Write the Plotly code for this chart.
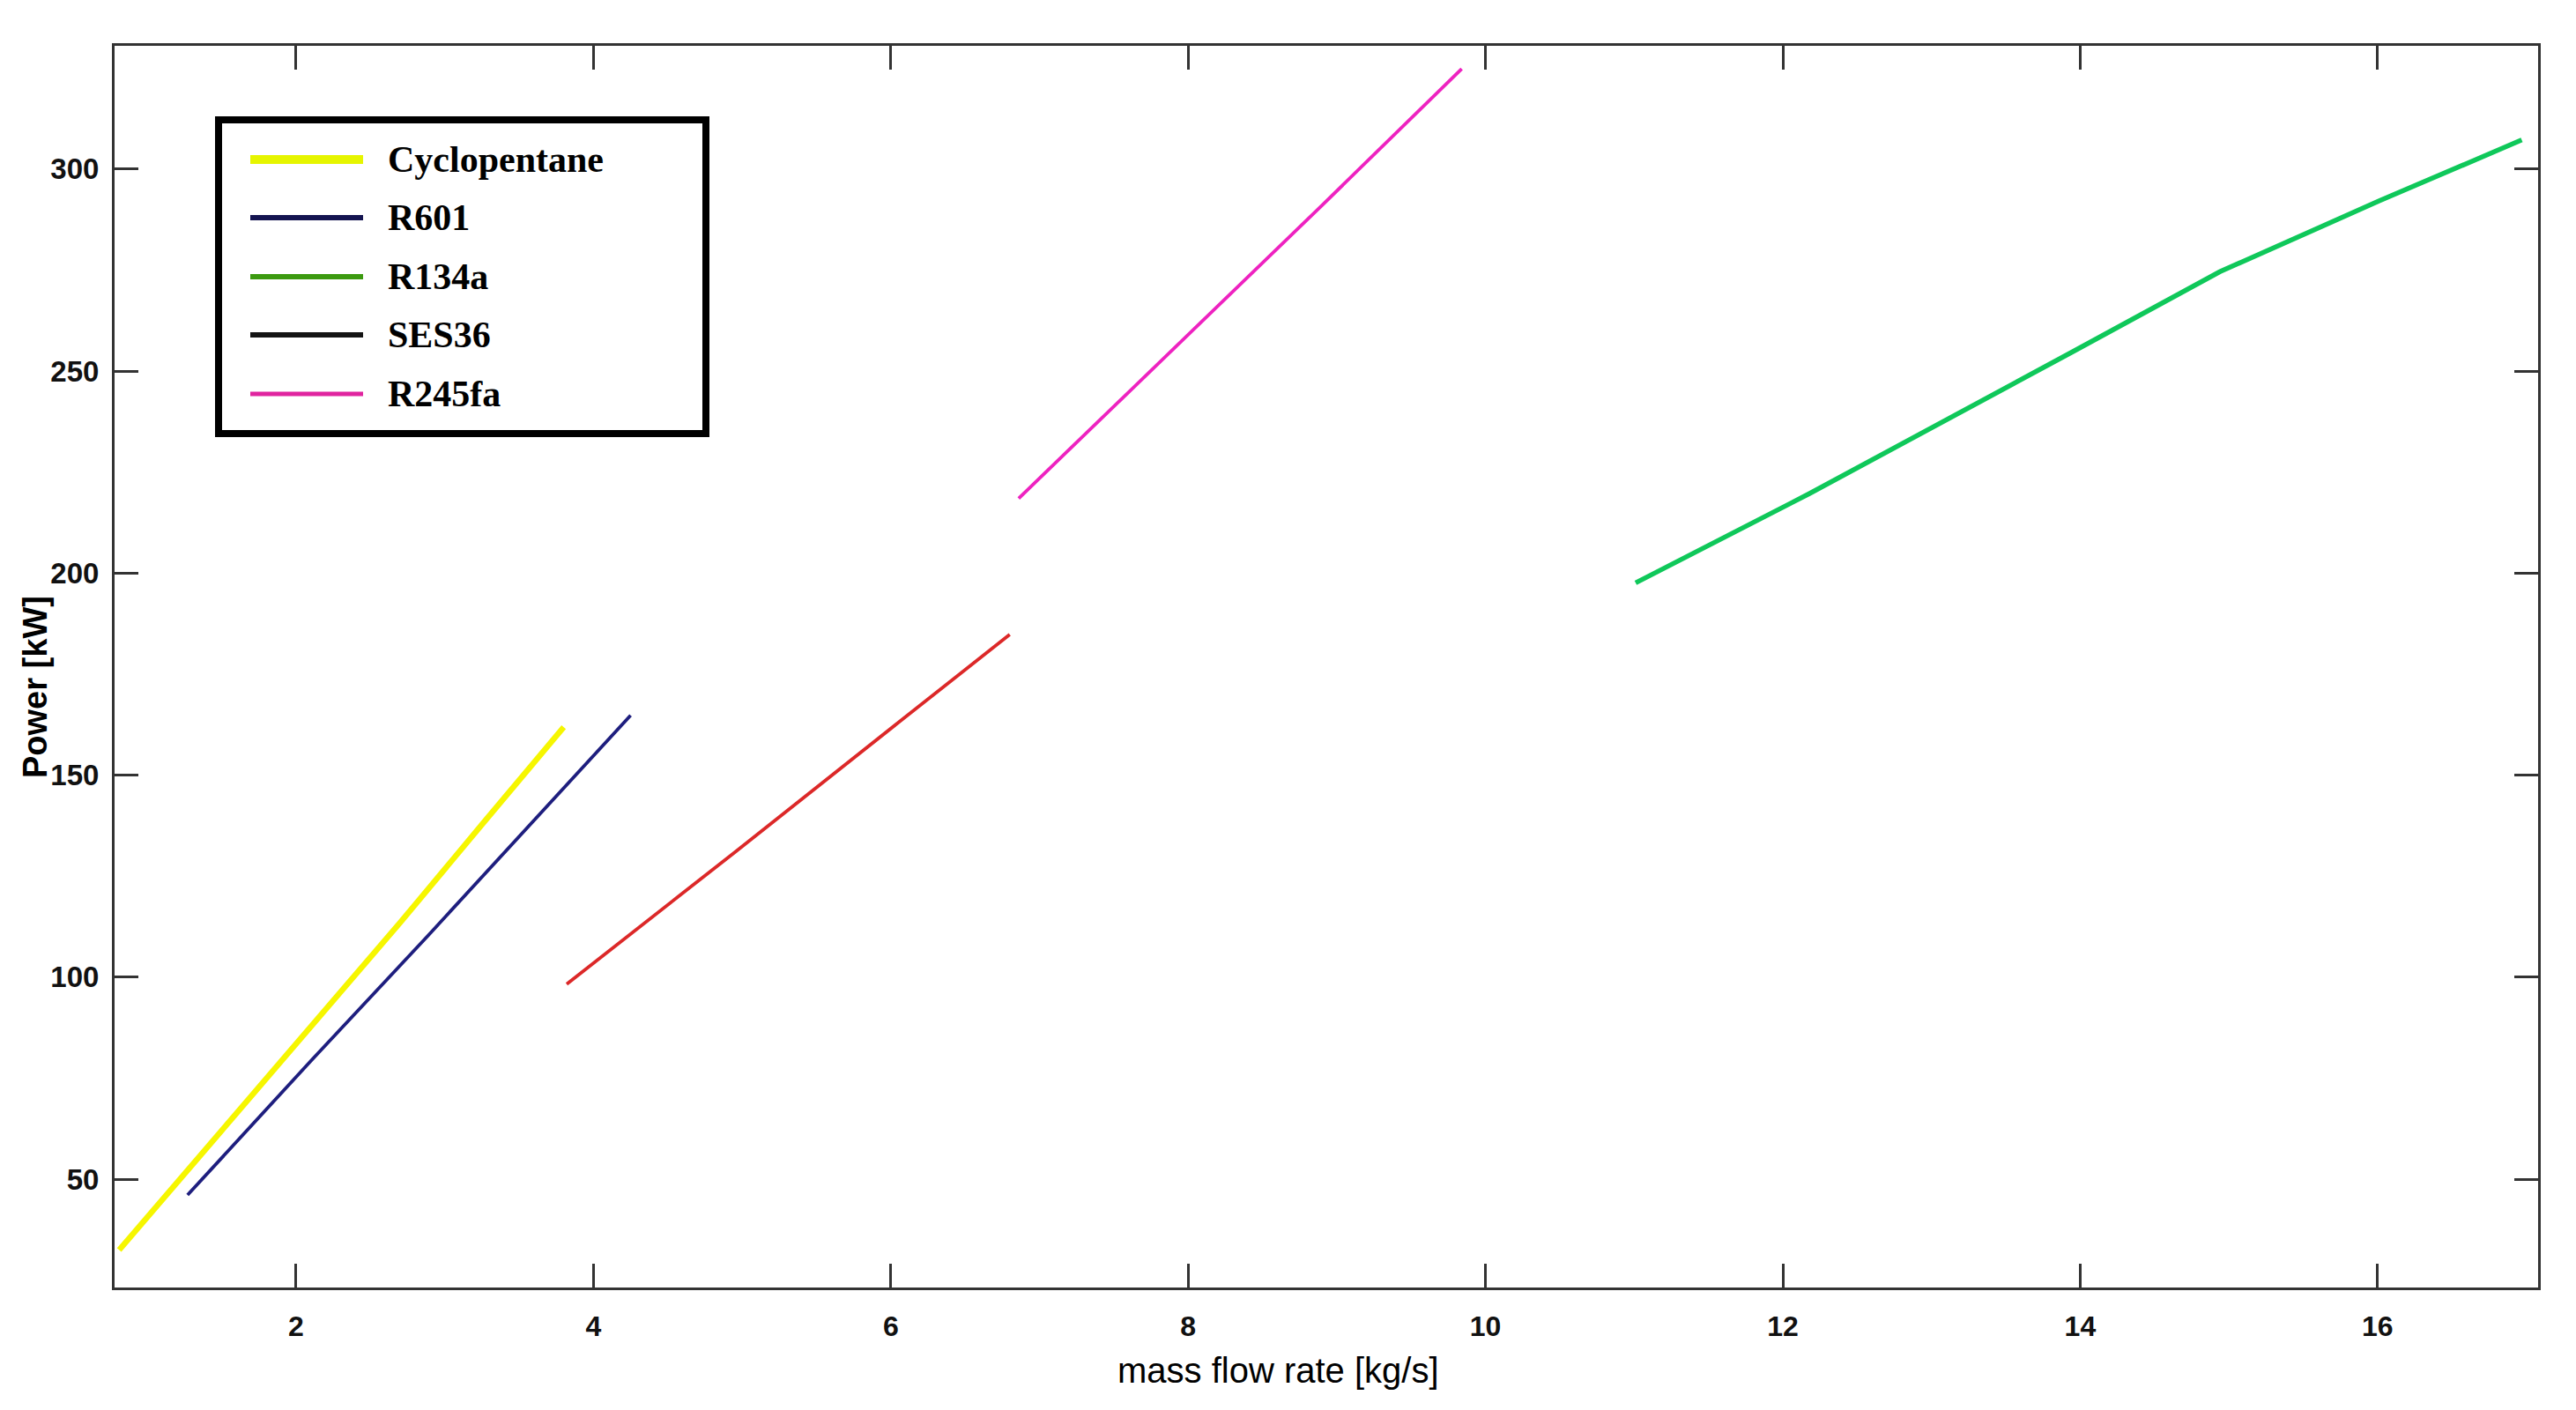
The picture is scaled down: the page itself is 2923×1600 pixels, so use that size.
import plotly.graph_objects as go

# ---- data ----
cyclopentane_x = [0.81, 1.25, 1.90, 2.70, 3.25, 3.80]
cyclopentane_y = [32.5, 51.4, 79.6, 113.5, 137.8, 161.9]
r601_x = [1.27, 2.10, 2.89, 3.57, 4.25]
r601_y = [46.1, 79.3, 110.4, 137.5, 164.8]
ses36_x = [3.82, 4.95, 6.05, 6.80]
ses36_y = [98.3, 130.9, 163.0, 184.8]
r245fa_x = [6.86, 8.90, 9.84]
r245fa_y = [218.5, 291.0, 324.8]
r134a_x = [11.01, 12.18, 13.94, 14.94, 16.01, 16.97]
r134a_y = [197.6, 219.7, 254.6, 274.6, 292.1, 307.2]

legend_names = ["Cyclopentane", "R601", "R134a", "SES36", "R245fa"]
x_ticks = [2, 4, 6, 8, 10, 12, 14, 16]
y_ticks = [50, 100, 150, 200, 250, 300]

W, H = 2923, 1600
OFF = 8  # page body margin
# target plot box in page pixels: x 130..2880, y 52..1461
L, T = 130 - OFF, 52 - OFF
R = W + OFF - 2880
B = H + OFF - 1461
PW, PH = W - L - R, H - T - B


def px(x):
    return (x - OFF - L) / PW


def py(y):
    return 1 - (y - OFF - T) / PH


fig = go.Figure()
series = [
    (cyclopentane_x, cyclopentane_y, "#f6f600", 6.5, "Cyclopentane"),
    (r601_x, r601_y, "#1e1e7e", 3.8, "R601"),
    (r134a_x, r134a_y, "#0fc85a", 5.5, "R134a"),
    (ses36_x, ses36_y, "#dc2828", 3.8, "SES36"),
    (r245fa_x, r245fa_y, "#ee22c0", 3.8, "R245fa"),
]
for xs, ys, col, w, name in series:
    fig.add_trace(go.Scatter(x=xs, y=ys, mode="lines", name=name,
                             line=dict(color=col, width=w), showlegend=False))

# ---- hand-drawn legend box (matches reference look) ----
shapes = []
annotations = []
box = dict(x0=248, y0=136, x1=801, y1=492)
shapes.append(dict(type="rect", xref="paper", yref="paper",
                   x0=px(box["x0"]), x1=px(box["x1"]),
                   y0=py(box["y1"]), y1=py(box["y0"]),
                   line=dict(color="black", width=8), fillcolor="white", layer="above"))
leg_cols = ["#e6f500", "#141450", "#3c9a10", "#141414", "#e0249f"]
leg_w = [10, 6, 6, 6, 5]
rows = [181, 247, 314, 380, 447]
for name, c, lw, ry in zip(legend_names, leg_cols, leg_w, rows):
    shapes.append(dict(type="line", xref="paper", yref="paper",
                       x0=px(284), x1=px(412), y0=py(ry), y1=py(ry),
                       line=dict(color=c, width=lw), layer="above"))
    annotations.append(dict(xref="paper", yref="paper", x=px(438), y=py(ry),
                            xanchor="left", yanchor="middle", showarrow=False,
                            text=name,
                            font=dict(family="Liberation Serif", size=42,
                                      color="black", weight="bold")))

# axis titles (placed like in the reference, slightly off-centre)
annotations.append(dict(xref="paper", yref="paper", x=px(1450), y=py(1555),
                        xanchor="center", yanchor="middle", showarrow=False,
                        text="mass flow rate [kg/s]",
                        font=dict(family="Liberation Sans", size=40, color="#000")))
annotations.append(dict(xref="paper", yref="paper", x=px(40), y=py(780),
                        xanchor="center", yanchor="middle", showarrow=False,
                        textangle=-90, text="Power [kW]",
                        font=dict(family="Liberation Sans", size=38, color="#000",
                                  weight="bold")))

axis_common = dict(showline=True, linecolor="#333333", linewidth=3, mirror="ticks",
                   ticks="inside", ticklen=27, tickwidth=3, tickcolor="#333333",
                   showgrid=False, zeroline=False)

fig.update_layout(
    width=W, height=H, autosize=False,
    margin=dict(l=L, r=R, t=T, b=B),
    paper_bgcolor="white", plot_bgcolor="white",
    xaxis=dict(range=[0.779, 17.08], tickvals=x_ticks,
               ticktext=[str(v) for v in x_ticks],
               tickfont=dict(family="Liberation Sans", size=32, color="#111",
                             weight="bold"),
               ticklabelstandoff=14,
               **axis_common),
    yaxis=dict(range=[23.2, 330.5], tickvals=y_ticks,
               ticktext=[str(v) for v in y_ticks],
               tickfont=dict(family="Liberation Sans", size=33, color="#111",
                             weight="bold"),
               ticklabelstandoff=8,
               **axis_common),
    shapes=shapes, annotations=annotations,
)

fig.write_html("out.html")
